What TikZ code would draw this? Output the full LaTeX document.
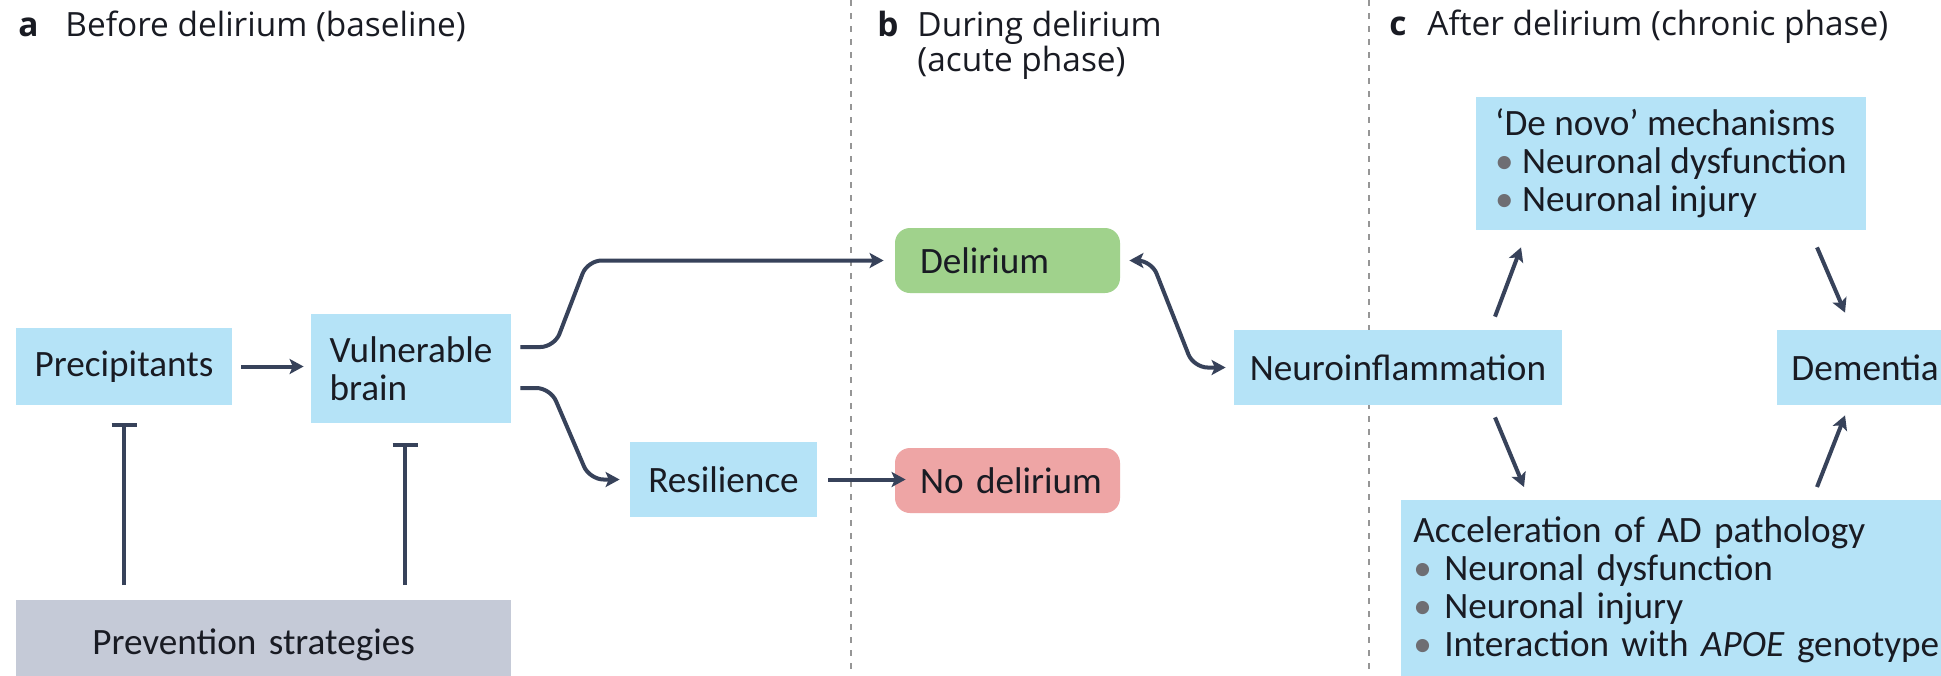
\documentclass[tikz,border=0pt]{standalone}
\usepackage{fontspec}
\setmainfont{Carlito}
\newfontfamily\headfont{Open Sans}
\usetikzlibrary{arrows.meta}
\definecolor{boxblue}{RGB}{181,227,247}
\definecolor{delgreen}{RGB}{160,210,140}
\definecolor{nodelred}{RGB}{238,165,165}
\definecolor{prevgray}{RGB}{197,202,215}
\definecolor{arrcol}{RGB}{55,66,90}
\definecolor{txtcol}{RGB}{25,27,35}
\definecolor{bulgray}{RGB}{110,110,115}
\definecolor{sepgray}{RGB}{150,150,150}
\newcommand\dbody{\fontsize{18.6pt}{19pt}\selectfont}
\newcommand\dhead{\headfont\fontsize{16.7pt}{17pt}\selectfont}
\newcommand\bul{{\color{bulgray}\textbullet}\ }
\begin{document}
\begin{tikzpicture}[x=0.5pt,y=-0.5pt,
  bx/.style={fill=boxblue, draw=none, inner sep=0pt, text=txtcol, font=\dbody},
  rbx/.style={draw=none, rounded corners=7.5pt, text width=87.5pt, inner xsep=12.5pt,
    inner ysep=0pt, minimum height=32.5pt, align=left, text=txtcol, font=\dbody},
  hd/.style={inner sep=0pt, text=txtcol, font=\dhead, anchor=base west},
  tip/.tip={Stealth[length=7pt,width=7.5pt,inset=1.6pt]},
  arr/.style={draw=arrcol, line width=2pt, -tip},
  darr/.style={draw=arrcol, line width=2pt, tip-tip},
  inh/.style={draw=arrcol, line width=2pt, -{Bar[width=12.5pt]}},
  sep/.style={draw=sepgray, line width=0.7pt, dash pattern=on 3pt off 3.5pt}]
\useasboundingbox (0,0) rectangle (1941,675);
\fill[white] (0,0) rectangle (1941,675);

% separators
\coordinate (s1t) at (851,0); \coordinate (s1b) at (851,675);
\coordinate (s2t) at (1369,0); \coordinate (s2b) at (1369,675);
\draw[sep] (s1t) -- (s1b);
\draw[sep] (s2t) -- (s2b);

% headers
\node[hd] (ha) at (18,36) {\makebox[23.5pt][l]{\textbf{a}}Before delirium (baseline)};
\node[hd] (hb) at (877,36) {\begin{tabular}[t]{@{}l@{}l@{}}\makebox[20pt][l]{\textbf{b}}&During delirium\\&(acute phase)\end{tabular}};
\node[hd] (hc) at (1389,35) {\makebox[19pt][l]{\textbf{c}}After delirium (chronic phase)};

% boxes
\node[bx, minimum width=108pt, minimum height=38.5pt] (prec) at (124,366.5) {Precipitants};
\node[bx, minimum width=100pt, minimum height=54.5pt, align=left] (vul) at (411,368.5) {Vulnerable\\brain};
\node[bx, minimum width=93.5pt, minimum height=37.5pt] (res) at (723.5,479.5) {Resilience};
\node[rbx, fill=delgreen] (del) at (1007.5,260.5) {\mbox{Delirium}};
\node[rbx, fill=nodelred] (nodel) at (1007.5,480.5) {\mbox{No delirium}};
\node[bx, minimum width=164pt, minimum height=37.5pt] (neuro) at (1398,367.5) {Neuroinflammation};
\node[bx, anchor=west, text width=100pt, inner xsep=7pt, minimum height=37.5pt, align=left] (dem) at (1777,367.5) {Dementia};
\node[bx, minimum width=195pt, minimum height=66.5pt, align=left] (denovo) at (1671,163.5)
  {‘De novo’ mechanisms\\\bul Neuronal dysfunction\\\bul Neuronal injury};
\node[bx, anchor=north west, text width=400pt, inner xsep=6pt, inner ysep=8pt, align=left] (acc) at (1401,500)
  {Acceleration of AD pathology\\\bul Neuronal dysfunction\\\bul Neuronal injury\\\bul Interaction with \textit{APOE} genotype};
\node[bx, fill=prevgray, anchor=north west, text width=171.5pt, inner xsep=38pt, minimum height=44pt, align=left] (prev) at (16,600) {Prevention strategies};

% connectors
\draw[arr] ([xshift=4.5pt]prec.east) -- ([xshift=-3.5pt]prec.east -| vul.west);
\draw[arr, rounded corners=7pt] ([shift={(4.5pt,10.75pt)}]vul.east) -- ++(17pt,0) -- ([xshift=-153.5pt]del.west) -- ([xshift=-5.5pt]del.west);
\draw[arr, rounded corners=7pt] ([shift={(4.5pt,-9.75pt)}]vul.east) -- ++(15pt,0) -- ([xshift=-20pt]res.west) -- ([xshift=-5pt]res.west);
\draw[arr] ([xshift=5.5pt]res.east) -- ([xshift=5.5pt]res.east -| nodel.west) ;
\draw[darr, rounded corners=7pt] ([xshift=4.5pt]del.east) -- ++(11pt,0) -- ([xshift=-20pt]neuro.west) -- ([xshift=-4pt]neuro.west);
\draw[arr] ([shift={(48.5pt,6.5pt)}]neuro.north) -- ([shift={(-75pt,-8.5pt)}]denovo.south);
\draw[arr] ([shift={(73pt,-8.5pt)}]denovo.south) -- ([shift={(34pt,8.5pt)}]dem.north west);
\draw[arr] ([shift={(48.5pt,-6pt)}]neuro.south) -- ([shift={(61.5pt,6.5pt)}]acc.north west);
\draw[arr] ([shift={(208pt,6.5pt)}]acc.north west) -- ([shift={(34pt,-5pt)}]dem.south west);
\draw[inh, shorten <=7.5pt] (prev.north -| prec.south) -- ([yshift=-9pt]prec.south);
\draw[inh, shorten <=7.5pt] ([xshift=-3pt]vul.south |- prev.north) -- ([shift={(-3pt,-10pt)}]vul.south);
\end{tikzpicture}
\end{document}
